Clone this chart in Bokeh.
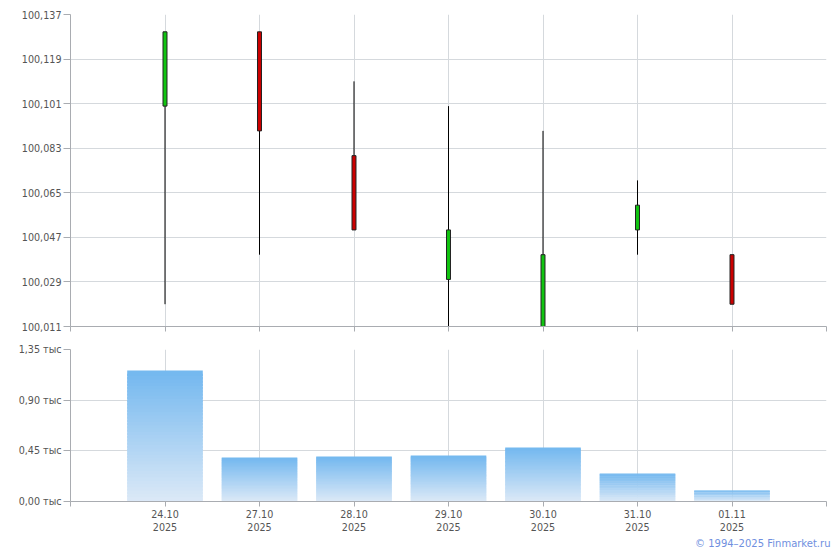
from bokeh.plotting import figure
from bokeh.layouts import column
from bokeh.models import (ColumnDataSource, Range1d, FixedTicker, CustomJSTickFormatter, Title)
from bokeh.embed import file_html
from bokeh.resources import INLINE

# ---- data ----
dates = ["24.10", "27.10", "28.10", "29.10", "30.10", "31.10", "01.11"]
years = ["2025", "2025", "2025", "2025", "2025", "2025", "2025"]
open_ = [100.100, 100.130, 100.080, 100.030, 100.011, 100.050, 100.040]
close = [100.130, 100.090, 100.050, 100.050, 100.040, 100.060, 100.020]
high = [100.130, 100.130, 100.110, 100.100, 100.090, 100.070, 100.040]
low = [100.020, 100.040, 100.050, 100.011, 100.011, 100.040, 100.020]
volume = [1163, 391, 400, 408, 480, 249, 98]

price_ticks = [100.011, 100.029, 100.047, 100.065, 100.083, 100.101, 100.119, 100.137]
volume_ticks = [0, 450, 900, 1350]

FONT = "DejaVu Sans"
FS = "9.6px"
TXT = "#545454"
GRID = "#d5d9dd"
AXIS = "#a9acb1"
UP = "#11c411"
DOWN = "#cc0000"
BAR_TOP = (0x74, 0xb8, 0xef)
BAR_BOT = (0xde, 0xea, 0xf7)

n = len(dates)
xs = list(range(n))
x_ticks = list(range(-1, n + 1))


def style(p):
    p.outline_line_color = None
    p.background_fill_color = "white"
    p.border_fill_color = "white"
    for ax in (p.xaxis, p.yaxis):
        ax.axis_line_color = AXIS
        ax.major_tick_line_color = AXIS
        ax.minor_tick_line_color = None
        ax.major_tick_in = 0
        ax.major_label_text_font = FONT
        ax.major_label_text_font_size = FS
        ax.major_label_text_color = TXT
    p.yaxis.major_tick_out = 7
    p.yaxis.major_label_standoff = 2
    p.xaxis.major_tick_out = 5
    p.xaxis.major_label_standoff = 2
    p.xgrid.grid_line_color = GRID
    p.ygrid.grid_line_color = GRID
    p.xaxis.ticker = FixedTicker(ticks=x_ticks)


# ---- price (candlestick) ----
p1 = figure(width=840, height=340, output_backend="svg", toolbar_location=None,
            x_range=Range1d(-1, n), y_range=Range1d(price_ticks[0], price_ticks[-1]),
            min_border_left=70, min_border_right=14, min_border_top=14, min_border_bottom=14)
style(p1)
p1.yaxis.ticker = FixedTicker(ticks=price_ticks)
p1.yaxis.formatter = CustomJSTickFormatter(code="return tick.toFixed(3).replace('.', ',');")
p1.xaxis.major_label_overrides = {t: "" for t in x_ticks}
p1.xaxis.major_label_text_font_size = "0px"

src = ColumnDataSource(dict(
    x=xs, high=high, low=low,
    top=[max(o, c) for o, c in zip(open_, close)],
    bottom=[min(o, c) for o, c in zip(open_, close)],
    color=[UP if c > o else DOWN for o, c in zip(open_, close)],
))
p1.segment(x0="x", y0="low", x1="x", y1="high", source=src, line_color="black", line_width=1)
p1.vbar(x="x", top="top", bottom="bottom", width=0.042, source=src,
        fill_color="color", line_color="#222222", line_width=1)

# ---- volume (gradient bars) ----
p2 = figure(width=840, height=210, output_backend="svg", toolbar_location=None,
            x_range=Range1d(-1, n), y_range=Range1d(volume_ticks[0], volume_ticks[-1]),
            min_border_left=70, min_border_right=14, min_border_top=9, min_border_bottom=49)
style(p2)
p2.yaxis.ticker = FixedTicker(ticks=volume_ticks)
p2.yaxis.formatter = CustomJSTickFormatter(
    code="return (tick / 1000).toFixed(2).replace('.', ',') + ' тыс';")
overrides = {-1: "", n: ""}
for i in xs:
    overrides[i] = dates[i] + "\n" + years[i]
p2.xaxis.major_label_overrides = overrides

steps = 40
ql, qr, qb, qt, qc = [], [], [], [], []
for i, v in zip(xs, volume):
    for j in range(steps):
        f = (j + 0.5) / steps
        col = "#%02x%02x%02x" % tuple(int(round(b + (t - b) * f)) for b, t in zip(BAR_BOT, BAR_TOP))
        ql.append(i - 0.4)
        qr.append(i + 0.4)
        qb.append(0 if j == 0 else v * (j - 0.7) / steps)
        qt.append(v * (j + 1) / steps)
        qc.append(col)
p2.quad(left=ql, right=qr, bottom=qb, top=qt, fill_color=qc, line_color=None)

p2.add_layout(Title(text="© 1994–2025 Finmarket.ru", align="right", text_font=FONT,
                    text_font_size="10px", text_font_style="normal", text_color="#6f8fe0",
                    standoff=0, offset=-4), "below")

layout = column(p1, p2, spacing=0)
open("out.html", "w").write(file_html(layout, INLINE))
